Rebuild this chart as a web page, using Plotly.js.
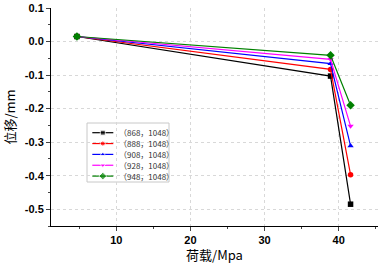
<!DOCTYPE html>
<html><head><meta charset="utf-8">
<script src="https://cdn.plot.ly/plotly-3.0.1.min.js"></script>
<style>html,body{margin:0;padding:0;background:#fff}</style>
</head><body><div id="chart" style="width:382px;height:264px"></div>
<script>
var load = [4.7, 38.9, 41.6];
var seriesNames = ['（868，1048）','（888，1048）','（908，1048）','（928，1048）','（948，1048）'];
var s868 = [0.015, -0.103, -0.485];
var s888 = [0.015, -0.083, -0.397];
var s908 = [0.015, -0.066, -0.311];
var s928 = [0.015, -0.053, -0.252];
var s948 = [0.015, -0.041, -0.190];
var seriesVals = [s868, s888, s908, s928, s948];
var colors = ['#000000','#ff0000','#0000ff','#ff00ff','#008000'];
var symbols = ['square','circle','triangle-up','triangle-down','diamond'];
var xTicks = [10,20,30,40];
var yTicks = [0.1,0.0,-0.1,-0.2,-0.3,-0.4,-0.5];
var yTickText = ['0.1','0.0','-0.1','-0.2','-0.3','-0.4','-0.5'];

var traces = seriesVals.map(function(v,i){
  return {x: load, y: v, name: seriesNames[i], type:'scatter', mode:'lines+markers',
    line:{color:colors[i], width:1.2}, showlegend:false,
    marker:{symbol:symbols[i], color:colors[i], size:i===4?6.5:5.5}};
});
// custom compact legend drawn on an overlay axis measured in page pixels
var M = {l:51, r:4, t:8, b:38};
var W = 382, H = 264;
function px(x){ return (x - M.l) / (W - M.l - M.r); }
function py(y){ return (H - M.b - y) / (H - M.t - M.b); }
var legBox = {x0:87, x1:169, y0:123, y1:182};
var shapes = [{type:'rect', xref:'paper', yref:'paper', x0:px(legBox.x0), x1:px(legBox.x1), y0:py(legBox.y0), y1:py(legBox.y1),
  line:{color:'#c8c8c8', width:1}, fillcolor:'#fff', layer:'between'}];
var annotations = [];
seriesNames.forEach(function(n,i){
  var yy = 132.7 + i*10.85;
  traces.push({x:[92.3,102.8,113.3], y:[yy,yy,yy], xaxis:'x2', yaxis:'y2', type:'scatter', mode:'lines+markers',
    showlegend:false, line:{color:colors[i], width:1.2},
    marker:{symbol:symbols[i], color:colors[i], size:[0, i===4?6:5, 0]}});
  annotations.push({xref:'paper', yref:'paper', x:px(116.5), y:py(yy), text:n, showarrow:false, xanchor:'left', yanchor:'middle',
    font:{size:8, color:'#333', family:'Noto Sans CJK SC'}});
});
var layout = {
  width:W, height:H,
  margin:M,
  paper_bgcolor:'#fff', plot_bgcolor:'#fff',
  font:{family:'Liberation Sans, Arial, sans-serif', color:'#000'},
  xaxis:{range:[1.2,45.3], tickvals:xTicks, ticks:'outside', ticklen:4, tickwidth:1,
    showline:true, linecolor:'#000', linewidth:1, zeroline:false,
    showgrid:true, gridcolor:'#d8d8d8', griddash:'dot', gridwidth:1,
    tickfont:{size:11, family:'Liberation Sans, Arial', weight:'bold'},
    minor:{tickvals:[5,15,25,35,45], ticks:'outside', ticklen:2, showgrid:false},
    title:{text:'荷载/Mpa', font:{size:13, family:'Noto Sans CJK SC'}, standoff:6}},
  yaxis:{range:[-0.55,0.1], tickvals:yTicks, ticktext:yTickText, ticks:'outside', ticklen:4, tickwidth:1,
    showline:true, linecolor:'#000', linewidth:1, zeroline:false,
    showgrid:true, gridcolor:'#d8d8d8', griddash:'dot', gridwidth:1,
    tickfont:{size:11, family:'Liberation Sans, Arial', weight:'bold'},
    minor:{tickvals:[0.05,-0.05,-0.15,-0.25,-0.35,-0.45,-0.55], ticks:'outside', ticklen:2, showgrid:false},
    title:{text:'位移/mm', font:{size:13, family:'Noto Sans CJK SC'}, standoff:10}},
  xaxis2:{overlaying:'x', range:[M.l, W-M.r], visible:false, fixedrange:true},
  yaxis2:{overlaying:'y', range:[H-M.b, M.t], visible:false, fixedrange:true},
  shapes:shapes, annotations:annotations,
  showlegend:false
};
Plotly.newPlot('chart', traces, layout, {staticPlot:true, displayModeBar:false});
</script></body></html>
